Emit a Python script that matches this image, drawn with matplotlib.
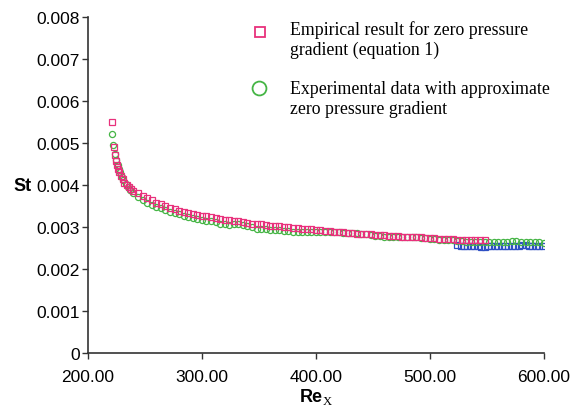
import matplotlib
matplotlib.use("Agg")
import matplotlib.pyplot as plt
from matplotlib.lines import Line2D

plt.rcParams['font.family'] = ['Liberation Sans', 'DejaVu Sans']
plt.rcParams['mathtext.fontset'] = 'custom'
plt.rcParams['mathtext.rm'] = 'Liberation Serif'

# Empirical result (pink squares)
re_emp = [221.5, 222.5, 223.5, 224.5, 225.5, 226.5, 227.5, 229, 230.5, 232, 234, 236, 238, 240,
          244, 248, 252, 256, 260, 264, 268, 272, 276, 280, 284, 288, 292, 296, 300,
          304, 308, 312, 316, 320, 324, 328, 332, 336, 340, 344, 348, 352, 356, 360,
          364, 368, 372, 376, 380, 384, 388, 392, 396, 400, 404, 408, 412, 416, 420,
          424, 428, 432, 436, 440, 444, 448, 452, 456, 460, 464, 468, 472, 476, 480,
          484, 488, 492, 496, 500, 504, 508, 512, 516, 520, 524, 528, 532, 536, 540, 544, 548]
st_emp = [0.00551, 0.00490, 0.00472, 0.00458, 0.00447, 0.00438, 0.00430, 0.00421, 0.00413, 0.00405,
          0.00399, 0.00394, 0.00390, 0.00386,
          0.00380, 0.00373, 0.00368, 0.00363, 0.00358, 0.00354, 0.00350, 0.00346, 0.00342, 0.00339,
          0.00336, 0.00333, 0.00331, 0.00329, 0.00327,
          0.00325, 0.00323, 0.00321, 0.00319, 0.00317, 0.00316, 0.00314, 0.00313, 0.00311, 0.00310,
          0.00308, 0.00307, 0.00306, 0.00304, 0.00303,
          0.00302, 0.00301, 0.00300, 0.00299, 0.00298, 0.00297, 0.00296, 0.00295, 0.00294, 0.00293,
          0.00292, 0.00291, 0.00290, 0.00289, 0.00288,
          0.00287, 0.00286, 0.00285, 0.00284, 0.00284, 0.00283, 0.00282, 0.00281, 0.00281, 0.00280,
          0.00279, 0.00279, 0.00278, 0.00277, 0.00277,
          0.00276, 0.00275, 0.00275, 0.00274, 0.00274, 0.00273, 0.00272, 0.00272, 0.00271, 0.00271,
          0.00270, 0.00270, 0.00269, 0.00269, 0.00268, 0.00268, 0.00268]

# Experimental data (green circles)
re_exp = [221.3, 222.3, 223.8, 225, 226, 227, 228, 229.5, 231, 233, 235, 237, 240,
          244, 248, 252, 256, 260, 264, 268, 272, 276, 280, 284, 288, 292, 296, 300,
          304, 308, 312, 316, 320, 324, 328, 332, 336, 340, 344, 348, 352, 356, 360,
          364, 368, 372, 376, 380, 384, 388, 392, 396, 400, 404, 408, 412, 416, 420,
          424, 428, 432, 436, 440, 444, 448, 452, 456, 460, 464, 468, 472, 476, 480,
          484, 488, 492, 496, 500, 504, 508, 512, 516, 520, 524, 528, 532, 536, 540,
          544, 548, 552, 556, 560, 564, 568, 572, 576, 580, 584, 588, 592, 596, 600]
st_exp = [0.00521, 0.00495, 0.00474, 0.00460, 0.00448, 0.00438, 0.00430, 0.00420, 0.00411, 0.00402,
          0.00394, 0.00388, 0.00380,
          0.00371, 0.00364, 0.00358, 0.00353, 0.00348, 0.00344, 0.00340, 0.00336, 0.00333, 0.00330,
          0.00327, 0.00323, 0.00321, 0.00319, 0.00317,
          0.00315, 0.00313, 0.00311, 0.00308, 0.00306, 0.00305, 0.00307, 0.00306, 0.00304, 0.00302,
          0.00299, 0.00296, 0.00294, 0.00294, 0.00293,
          0.00292, 0.00292, 0.00291, 0.00290, 0.00289, 0.00288, 0.00288, 0.00287, 0.00287, 0.00288,
          0.00289, 0.00289, 0.00288, 0.00287, 0.00287,
          0.00286, 0.00286, 0.00285, 0.00285, 0.00284, 0.00282, 0.00280, 0.00279, 0.00278, 0.00277,
          0.00277, 0.00276, 0.00276, 0.00277, 0.00276,
          0.00275, 0.00276, 0.00274, 0.00273, 0.00272, 0.00271, 0.00270, 0.00269, 0.00269, 0.00268,
          0.00267, 0.00266, 0.00265, 0.00265, 0.00264,
          0.00264, 0.00264, 0.00263, 0.00264, 0.00264, 0.00263, 0.00265, 0.00266, 0.00266, 0.00265,
          0.00264, 0.00264, 0.00263, 0.00263, 0.00262]

# Blue squares at the downstream end
re_blue = [524, 527, 530, 533, 536, 539, 542, 545, 548, 551, 554, 557, 560, 563, 566, 569,
           572, 575, 578, 581, 584, 587, 590, 593, 596, 599]
st_blue = [0.00256, 0.00255, 0.00255, 0.00254, 0.00254, 0.00254, 0.00254, 0.00253, 0.00253, 0.00254,
           0.00254, 0.00254, 0.00254, 0.00255, 0.00255, 0.00254, 0.00254, 0.00255, 0.00255, 0.00256,
           0.00256, 0.00255, 0.00255, 0.00255, 0.00254, 0.00254]

x_ticks = [200, 300, 400, 500, 600]
y_ticks = [0, 0.001, 0.002, 0.003, 0.004, 0.005, 0.006, 0.007, 0.008]
y_labels = ["0", "0.001", "0.002", "0.003", "0.004", "0.005", "0.006", "0.007", "0.008"]
legend_labels = ["Empirical result for zero pressure\ngradient (equation 1)",
                 "Experimental data with approximate\nzero pressure gradient"]

pink = "#e8317c"
green = "#45b545"
blue = "#2e4fc4"

fig = plt.figure(figsize=(5.86, 4.10), dpi=100)
ax = fig.add_axes([0.150, 0.137, 0.778, 0.819])

ax.plot(re_blue, st_blue, "s", ms=4.2, mfc="none", mec=blue, mew=0.9)
ax.plot(re_exp, st_exp, "o", ms=4.4, mfc="none", mec=green, mew=0.9)
ax.plot(re_emp, st_emp, "s", ms=4.2, mfc="none", mec=pink, mew=0.9)

ax.set_xlim(200, 600)
ax.set_ylim(0, 0.008)
ax.set_xticks(x_ticks)
ax.set_xticklabels([f"{v:.2f}" for v in x_ticks])
ax.set_yticks(y_ticks)
ax.set_yticklabels(y_labels)
ax.tick_params(labelsize=12.5, direction="out", length=4, width=1, colors="#333333",
               labelcolor="black", pad=2)
ax.tick_params(axis="x", pad=8)

for side in ["top", "right"]:
    ax.spines[side].set_visible(False)
for side in ["left", "bottom"]:
    ax.spines[side].set_color("#333333")
    ax.spines[side].set_linewidth(1.2)

ax.set_xlabel(r"Re$_{\mathrm{X}}$", fontsize=13, fontweight="bold", labelpad=1)
fig.text(0.038, 0.546, "St", fontsize=13, fontweight="bold", ha="center", va="center")

# legend drawn by hand: marker sits next to the first line of each label
W, H = 586, 410
fig.add_artist(Line2D([260 / W], [1 - 33 / H], transform=fig.transFigure, ls="none",
                      marker="s", ms=7, mfc="none", mec=pink, mew=1.3))
fig.add_artist(Line2D([259 / W], [1 - 89 / H], transform=fig.transFigure, ls="none",
                      marker="o", ms=10, mfc="none", mec=green, mew=1.3))
fig.text(290 / W, 1 - 21 / H, legend_labels[0], family="Liberation Serif", fontsize=12.8,
         va="top", ha="left", linespacing=1.22)
fig.text(290 / W, 1 - 81 / H, legend_labels[1], family="Liberation Serif", fontsize=12.8,
         va="top", ha="left", linespacing=1.22)

fig.savefig("out.png", dpi=100)
